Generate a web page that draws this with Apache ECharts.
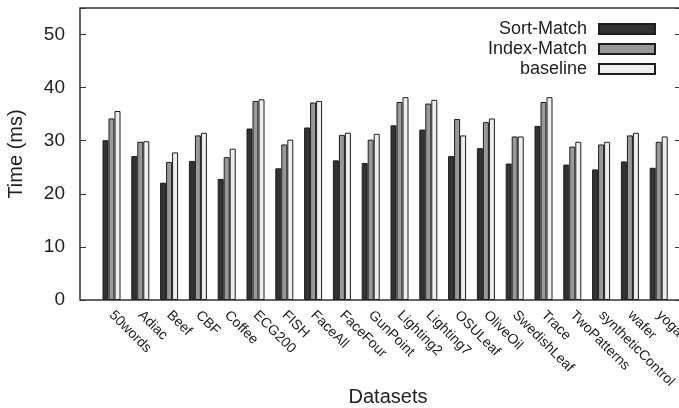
<!DOCTYPE html>
<html>
<head>
<meta charset="utf-8">
<script src="https://cdn.jsdelivr.net/npm/echarts@6/dist/echarts.min.js"></script>
<style>
  html, body { margin: 0; padding: 0; background: #fff; }
  #chart { width: 679px; height: 408px; }
</style>
</head>
<body>
<div id="chart"></div>
<script>
const datasets = ['50words', 'Adiac', 'Beef', 'CBF', 'Coffee', 'ECG200', 'FISH', 'FaceAll', 'FaceFour', 'GunPoint',
  'Lighting2', 'Lighting7', 'OSULeaf', 'OliveOil', 'SwedishLeaf', 'Trace', 'TwoPatterns', 'syntheticControl', 'wafer', 'yoga']
const sortMatch = [30.1, 27.1, 22.1, 26.2, 22.8, 32.3, 24.8, 32.5, 26.3, 25.8, 32.9, 32.1, 27.1, 28.6, 25.7, 32.8, 25.5, 24.6, 26.1, 24.9]
const indexMatch = [34.2, 29.8, 26.0, 31.0, 26.9, 37.5, 29.3, 37.2, 31.1, 30.2, 37.3, 37.0, 34.1, 33.5, 30.8, 37.3, 28.9, 29.3, 31.0, 29.8]
const baseline = [35.6, 29.9, 27.8, 31.5, 28.5, 37.8, 30.2, 37.5, 31.5, 31.3, 38.2, 37.7, 31.0, 34.2, 30.8, 38.2, 29.8, 29.8, 31.5, 30.8]
const yTicks = [0, 10, 20, 30, 40, 50]

const font = 'Liberation Sans, Arial, Helvetica, sans-serif'
const chart = echarts.init(document.getElementById('chart'))

const barSeries = (name, data, color) => ({
  name,
  type: 'bar',
  xAxisIndex: 1,
  yAxisIndex: 2,
  data,
  barWidth: 6,
  barGap: '0%',
  itemStyle: { color, borderColor: '#1e1e1e', borderWidth: 1 }
})

const option = {
  animation: false,
  textStyle: { fontFamily: font },
  grid: [
    // outer frame
    { left: 80, top: 8, width: 601, bottom: 108, outerBoundsMode: 'none', containLabel: false,
      show: true, borderColor: '#333', borderWidth: 1.5, backgroundColor: 'transparent' },
    // bars
    { left: 97.1, top: 8, width: 576, bottom: 108, outerBoundsMode: 'none', containLabel: false }
  ],
  legend: {
    orient: 'vertical',
    right: 18,
    top: 15,
    align: 'right',
    icon: 'rect',
    itemWidth: 56,
    itemHeight: 10,
    itemGap: 2,
    selectedMode: false,
    textStyle: { fontSize: 18, color: '#222', fontFamily: font, padding: [0, 7, 0, 0] },
    data: ['Sort-Match', 'Index-Match', 'baseline']
  },
  xAxis: [
    {
      gridIndex: 0, type: 'value', min: 0, max: 1,
      axisLine: { show: false }, axisTick: { show: false }, axisLabel: { show: false }, splitLine: { show: false }
    },
    {
      gridIndex: 1, type: 'category', data: datasets,
      axisLine: { show: false }, axisTick: { show: false }, splitLine: { show: false },
      axisLabel: { interval: 0, rotate: -45, margin: 13, fontSize: 14, color: '#222', fontFamily: font }
    }
  ],
  yAxis: [
    {
      gridIndex: 0, type: 'value', min: 0, max: 55, interval: 10,
      name: 'Time (ms)', nameLocation: 'middle', nameGap: 54,
      nameTextStyle: { fontSize: 20, color: '#222', fontFamily: font },
      axisLine: { show: false },
      axisTick: { show: true, inside: true, length: 6, lineStyle: { color: '#333' } },
      axisLabel: { margin: 15, fontSize: 19, color: '#222', fontFamily: font, formatter: v => yTicks.includes(v) ? String(v) : '' },
      splitLine: { show: false }
    },
    {
      gridIndex: 0, type: 'value', min: 0, max: 55, interval: 10, position: 'right',
      axisLine: { show: false },
      axisTick: { show: true, inside: true, length: 6, lineStyle: { color: '#333' } },
      axisLabel: { show: false }, splitLine: { show: false }
    },
    {
      gridIndex: 1, type: 'value', min: 0, max: 55, show: false
    }
  ],
  graphic: [
    {
      type: 'text', x: 388, y: 397,
      style: { text: 'Datasets', fontSize: 20, fill: '#222', fontFamily: font, align: 'center', verticalAlign: 'middle' }
    }
  ],
  series: [
    barSeries('Sort-Match', sortMatch, '#333333'),
    barSeries('Index-Match', indexMatch, '#999999'),
    barSeries('baseline', baseline, '#eeeeee')
  ]
}

chart.setOption(option)
</script>
</body>
</html>
